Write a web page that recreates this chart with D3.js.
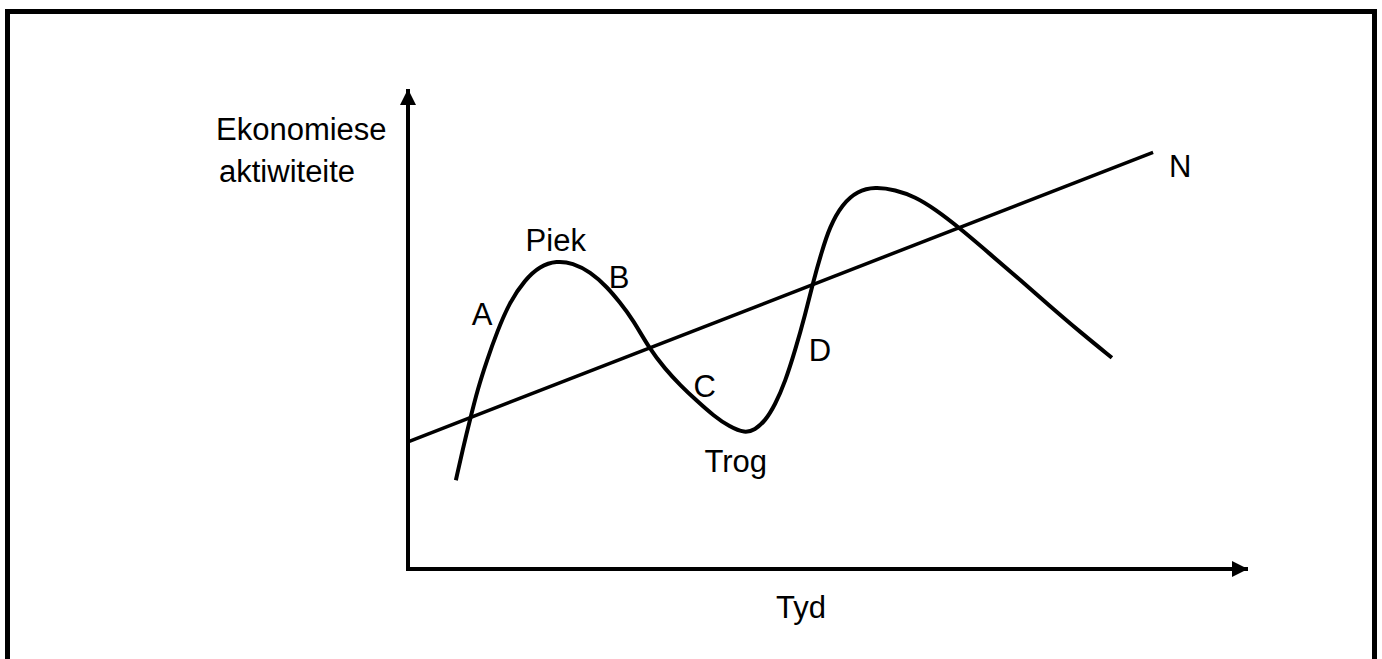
<!DOCTYPE html>
<html>
<head>
<meta charset="utf-8">
<script src="https://cdn.jsdelivr.net/npm/d3@7"></script>
<style>
  body { margin: 0; background: #fff; }
  svg { display: block; }
  text { font-family: "Liberation Sans", Arial, sans-serif; font-size: 31px; fill: #000; }
</style>
</head>
<body>
<div id="chart"></div>
<script>
// business cycle curve (time, activity) on a 0-100 scale
const cycleTime = [5.7, 6.5, 7.4, 8.3, 9.4, 10.6, 12.1, 13.9, 15.7, 17.7, 19.6, 21.7, 23.7, 25.2, 26.8,
  28.7, 30.6, 32.4, 34.4, 36.4, 38.3, 40.1, 41.3, 42.5, 43.7, 44.9, 46.1, 47.3, 48.2, 49.2, 50.2,
  51.7, 53.5, 55.6, 58.0, 60.4, 62.7, 65.7, 69.3, 72.9, 76.4, 80.0, 83.8]
const cycleActivity = [18.5, 24.8, 31.25, 37.5, 43.5, 49.4, 55.6, 60.2, 63.1, 64.2, 63.75, 61.9, 58.75, 55.6, 51.9,
  46.0, 41.7, 38.3, 35.0, 31.9, 29.6, 28.3, 29.0, 30.8, 34.2, 39.0, 45.6, 53.1, 59.6, 65.8, 71.3,
  76.0, 78.75, 79.6, 79.0, 77.5, 75.0, 71.0, 65.6, 60.2, 54.8, 49.4, 44.0]

// long-term trend N
const trendTime = [0, 88.7]
const trendActivity = [26.5, 86.8]

// phase labels
const phaseLabels = ["Piek", "A", "B", "C", "D", "Trog", "N"]
const phaseTime = [14.0, 7.6, 23.9, 34.0, 47.7, 35.3, 90.6]
const phaseActivity = [66.2, 50.8, 58.5, 35.8, 43.3, 20.2, 81.6]

const yLabel = ["Ekonomiese", "aktiwiteite"]
const xLabel = "Tyd"

const w = 1382
const h = 659

const xScale = d3.scaleLinear().domain([0, 100]).range([408, 1248])
const yScale = d3.scaleLinear().domain([0, 100]).range([569, 89])

const svg = d3.select("#chart")
  .append("svg")
  .attr("width", w)
  .attr("height", h)

// outer frame (bottom edge runs off the page)
svg.append("rect")
  .attr("x", 7.5)
  .attr("y", 11.5)
  .attr("width", 1367)
  .attr("height", 720)
  .attr("fill", "none")
  .attr("stroke", "#000")
  .attr("stroke-width", 5)

const defs = svg.append("defs")
defs.append("marker")
  .attr("id", "arrow")
  .attr("viewBox", "0 0 16 16")
  .attr("refX", 16)
  .attr("refY", 8)
  .attr("markerWidth", 16)
  .attr("markerHeight", 16)
  .attr("markerUnits", "userSpaceOnUse")
  .attr("orient", "auto")
  .append("path")
  .attr("d", "M0,0 L16,8 L0,16 Z")
  .attr("fill", "#000")

// axes
svg.append("line")
  .attr("x1", xScale(0)).attr("y1", yScale(0) + 2)
  .attr("x2", xScale(0)).attr("y2", yScale(100))
  .attr("stroke", "#000").attr("stroke-width", 4)
  .attr("marker-end", "url(#arrow)")

svg.append("line")
  .attr("x1", xScale(0) - 2).attr("y1", yScale(0))
  .attr("x2", xScale(100)).attr("y2", yScale(0))
  .attr("stroke", "#000").attr("stroke-width", 4)
  .attr("marker-end", "url(#arrow)")

// trend line
svg.append("line")
  .attr("x1", xScale(trendTime[0])).attr("y1", yScale(trendActivity[0]))
  .attr("x2", xScale(trendTime[1])).attr("y2", yScale(trendActivity[1]))
  .attr("stroke", "#000").attr("stroke-width", 3.5)

// cycle curve, smoothed with a b-spline
const cycle = cycleTime.map((t, i) => [t, cycleActivity[i]])
const line = d3.line()
  .x(d => xScale(d[0]))
  .y(d => yScale(d[1]))
  .curve(d3.curveBasis)

svg.append("path")
  .datum(cycle)
  .attr("d", line)
  .attr("fill", "none")
  .attr("stroke", "#000")
  .attr("stroke-width", 4)

// labels
svg.selectAll(".phase")
  .data(phaseLabels)
  .enter()
  .append("text")
  .attr("class", "phase")
  .attr("x", (d, i) => xScale(phaseTime[i]))
  .attr("y", (d, i) => yScale(phaseActivity[i]))
  .text(d => d)

svg.append("text").attr("x", 216).attr("y", 140).text(yLabel[0])
svg.append("text").attr("x", 219).attr("y", 182).text(yLabel[1])
svg.append("text").attr("x", 776).attr("y", 618).text(xLabel)
</script>
</body>
</html>
